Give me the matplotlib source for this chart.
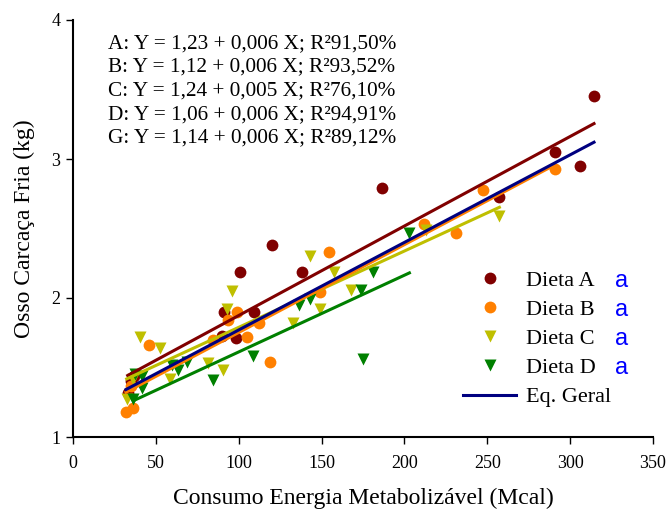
import numpy as np
from matplotlib import pyplot as plt
from matplotlib.lines import Line2D

plt.rcParams['font.family'] = ['Liberation Serif', 'DejaVu Serif']

# consumo de energia (Mcal) x osso da carcaça fria (kg), por dieta
xa = [33, 35, 37, 89.7, 91.3, 98.2, 100.8, 109.2, 119.9, 138, 186.7, 257.3, 290.9, 306, 314.4]
ya = [1.32, 1.40, 1.44, 1.73, 1.90, 1.71, 2.19, 1.90, 2.38, 2.19, 2.79, 2.73, 3.05, 2.95, 3.45]

xb = [32, 35, 36.4, 45.9, 84.7, 93.7, 99.2, 105.2, 112.3, 118.9, 149, 154.5, 211.8, 231, 247.6, 290.9]
yb = [1.18, 1.37, 1.21, 1.66, 1.70, 1.84, 1.90, 1.72, 1.82, 1.54, 2.04, 2.33, 2.53, 2.47, 2.78, 2.93]

xc = [32.4, 36, 40.4, 52.5, 58.5, 81.7, 90.7, 92.8, 96.1, 132.6, 143, 149, 157.5, 167.6, 213, 257.3]
yc = [1.27, 1.42, 1.72, 1.64, 1.42, 1.53, 1.48, 1.92, 2.05, 1.82, 2.30, 1.92, 2.19, 2.06, 2.49, 2.59]

xd = [36.4, 37.4, 41.5, 41.5, 59.6, 63.6, 68.6, 84.7, 108.4, 136.6, 143, 173.6, 175.2, 180.9, 203]
yd = [1.27, 1.45, 1.44, 1.35, 1.52, 1.48, 1.54, 1.41, 1.58, 1.95, 1.99, 2.06, 1.56, 2.19, 2.47]

# regressões: intercepto, inclinação, R2 e faixa de x de cada reta
nomes = ['A', 'B', 'C', 'D', 'G']
interc = [1.23, 1.12, 1.24, 1.06, 1.14]
inclin = [0.00644, 0.00632, 0.00549, 0.00552, 0.0063]
r2 = [91.50, 93.52, 76.10, 94.91, 89.12]
xmin = [33, 32, 32.4, 36.4, 32]
xmax = [314.4, 290.9, 257.3, 203, 314.4]
cores_reta = ['#800000', '#FF8000', '#BFBF00', '#008000', '#000080']

fig = plt.figure(figsize=(6.68, 5.17), dpi=100)
ax = fig.add_axes([73/668, 1-437/517, 580/668, 417/517])

ax.plot(xa, ya, 'o', color='#800000', ms=8.5, mec='none', zorder=3)
ax.plot(xb, yb, 'o', color='#FF8000', ms=8.5, mec='none', zorder=3)
ax.plot(xc, yc, 'v', color='#BFBF00', ms=9, mec='none', zorder=3)
ax.plot(xd, yd, 'v', color='#008000', ms=9, mec='none', zorder=3)

for i in [0, 2, 3, 1, 4]:
    xx = np.array([xmin[i], xmax[i]])
    ax.plot(xx, interc[i] + inclin[i]*xx, color=cores_reta[i], lw=2.2, zorder=4)

# equações no canto superior esquerdo
linhas = []
for i in range(5):
    a = f"{interc[i]:.2f}".replace('.', ',')
    b = f"{inclin[i]:.3f}".replace('.', ',')
    r = f"{r2[i]:.2f}".replace('.', ',')
    linhas.append(f"{nomes[i]}: Y = {a} + {b} X; R²{r}%")
fig.text(108/668, 1-34/517, "\n".join(linhas), fontsize=15.3, va='top', ha='left',
         linespacing=1.33)

ax.set_xlim(0, 350)
ax.set_ylim(1, 4)
ax.set_xticks(np.arange(0, 351, 50))
ax.set_yticks([1, 2, 3, 4])
ax.spines['top'].set_visible(False)
ax.spines['right'].set_visible(False)
ax.spines['left'].set_linewidth(1.5)
ax.spines['bottom'].set_linewidth(1.5)
ax.tick_params(direction='out', length=5, width=1, labelsize=13)
ax.tick_params(axis='x', pad=8)
ax.tick_params(axis='y', pad=4)
ax.set_xlabel("Consumo Energia Metabolizável (Mcal)", fontsize=17, labelpad=11)
ax.set_ylabel("Osso Carcaça Fria (kg)", fontsize=17, labelpad=12)

handles = [
    Line2D([], [], ls='none', marker='o', color='#800000', ms=8.5, mec='none'),
    Line2D([], [], ls='none', marker='o', color='#FF8000', ms=8.5, mec='none'),
    Line2D([], [], ls='none', marker='v', color='#BFBF00', ms=9, mec='none'),
    Line2D([], [], ls='none', marker='v', color='#008000', ms=9, mec='none'),
    Line2D([], [], color='#000080', lw=2.2),
]
rotulos = ['Dieta A', 'Dieta B', 'Dieta C', 'Dieta D', 'Eq. Geral']
ax.legend(handles, rotulos, frameon=False, fontsize=16, loc='upper left',
          bbox_to_anchor=(463/668, 1-270/517), bbox_transform=fig.transFigure,
          borderpad=0, borderaxespad=0, handlelength=2.4, handletextpad=0.45,
          labelspacing=0.39)

for k in range(4):
    fig.text(615/668, 1-(281+29*k)/517, "a", color='#0000FF', fontsize=17,
             family='Liberation Sans', va='center', ha='left')

fig.savefig("out.png", dpi=100)
